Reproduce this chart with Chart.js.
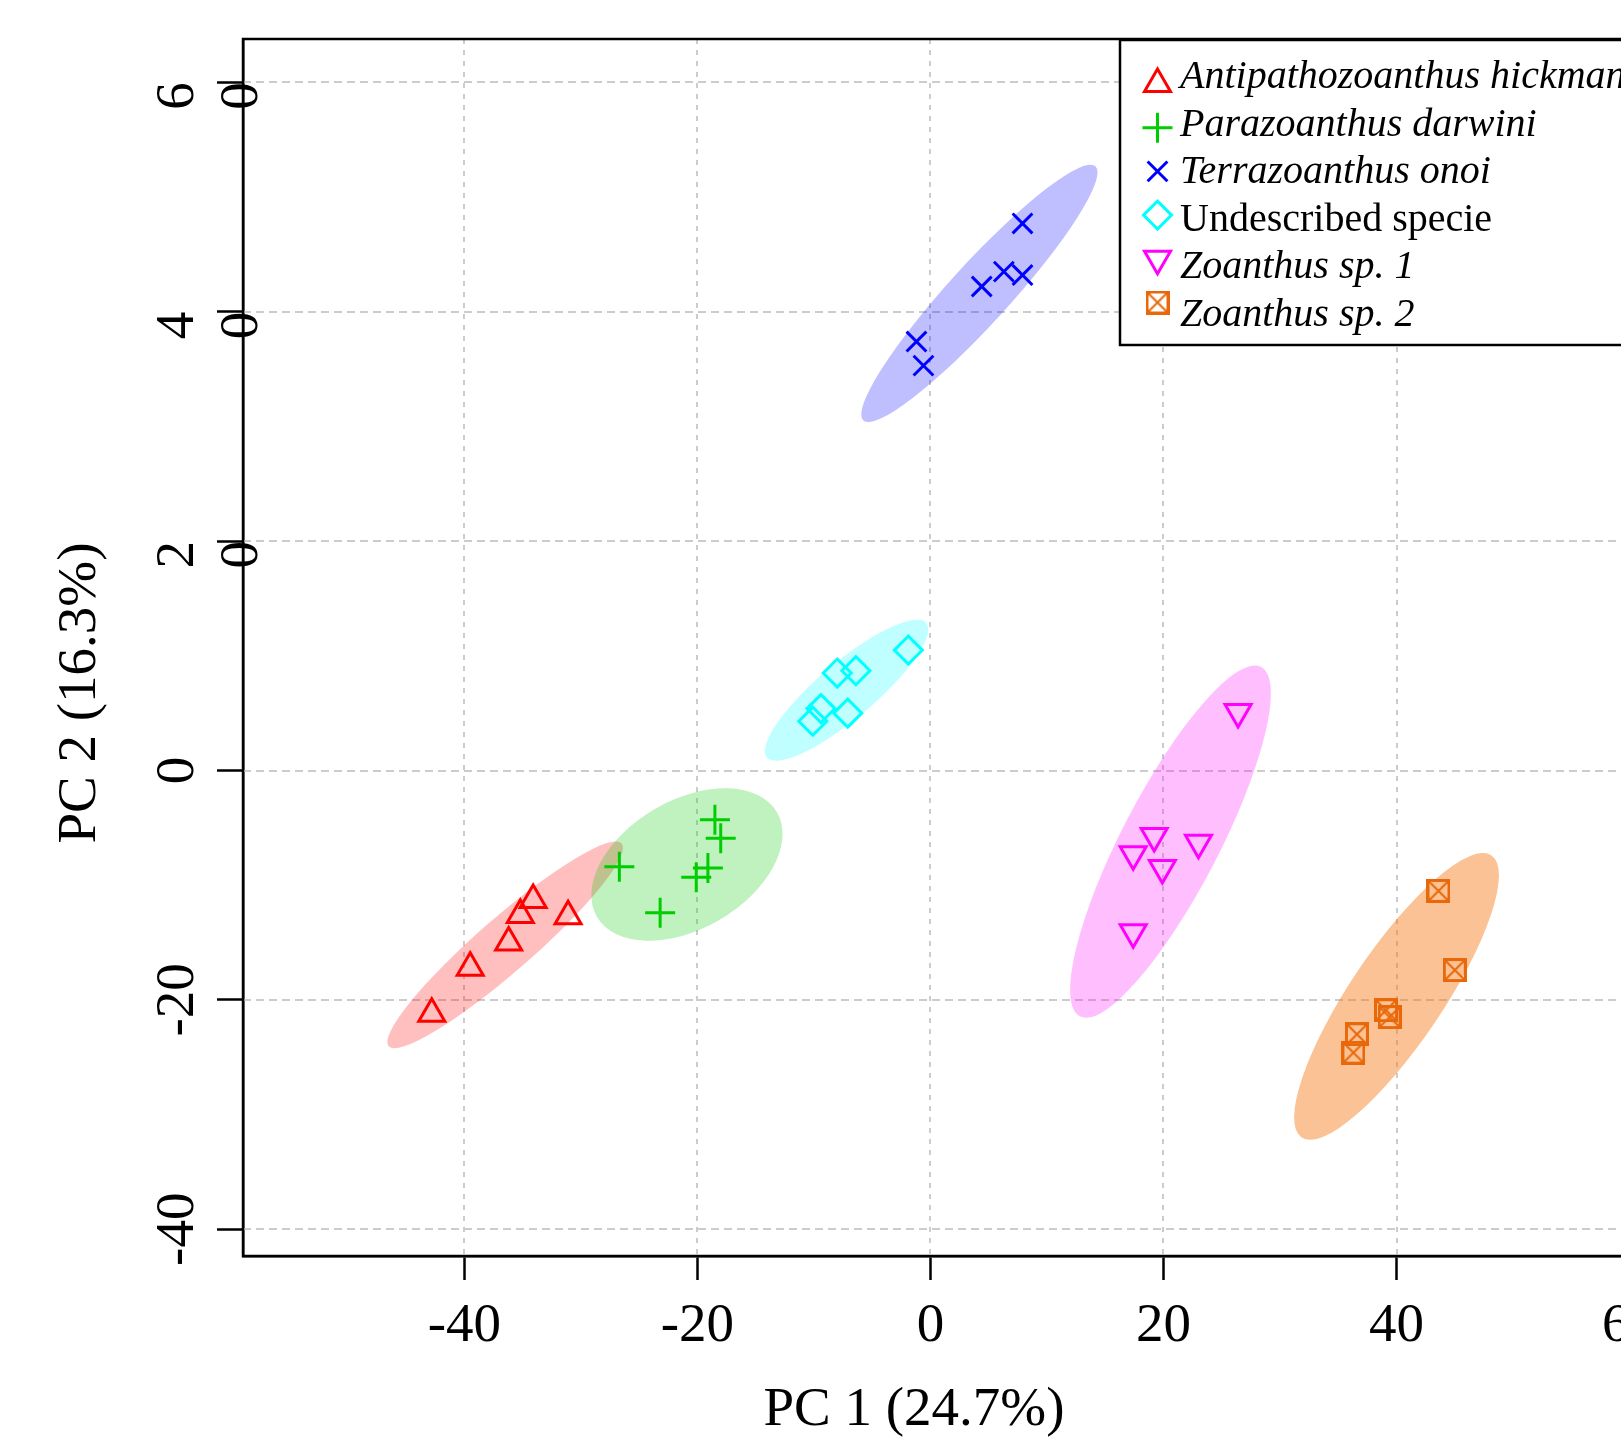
<!DOCTYPE html>
<html><head><meta charset="utf-8">
<script src="https://cdn.jsdelivr.net/npm/chart.js@4.4.1/dist/chart.umd.min.js"></script>
<style>
html,body{margin:0;padding:0;background:#fff;overflow:hidden;width:1621px;height:1437px;}
#wrap{position:absolute;left:0;top:0;width:1720px;height:1437px;}
canvas{display:block}
</style></head><body>
<div id="wrap"><canvas id="c" width="1720" height="1437" style="width:1720px;height:1437px"></canvas></div>
<script>
// ---------- data ----------
const groupNames = ['Antipathozoanthus hickmani','Parazoanthus darwini','Terrazoanthus onoi','Undescribed specie','Zoanthus sp. 1','Zoanthus sp. 2'];
const groupItalic = [true, true, true, false, true, true];

const antiX = [-42.8, -39.5, -36.2, -35.2, -34.1, -31.1];
const antiY = [-21.2, -17.2, -15.0, -12.6, -11.3, -12.7];
const paraX = [-26.7, -23.2, -20.1, -19.1, -18.5, -18.0];
const paraY = [-8.4, -12.4, -9.3, -8.5, -4.3, -5.9];
const terrX = [7.9, 4.4, 6.3, 7.9, -1.2, -0.6];
const terrY = [47.7, 42.2, 43.5, 43.2, 37.4, 35.3];
const undX  = [-1.9, -6.4, -8.0, -9.4, -7.1, -10.1];
const undY  = [10.5, 8.7, 8.5, 5.4, 5.0, 4.3];
const zo1X  = [26.4, 19.2, 17.4, 19.9, 23.0, 17.4];
const zo1Y  = [5.1, -5.7, -7.3, -8.5, -6.3, -14.1];
const zo2X  = [43.6, 45.0, 39.1, 39.4, 36.6, 36.3];
const zo2Y  = [-10.5, -17.4, -20.9, -21.5, -23.0, -24.6];

// ellipse geometry (data units), same group order: centre, major semi-axis vector, minor semi-axis vector
const ellCX   = [-36.5, -20.9, 4.2, -7.2, 20.6, 40.0];
const ellCY   = [-15.2, -8.2, 41.6, 7.0, -6.2, -19.7];
const ellMajX = [10.0, 7.73, 9.96, 6.84, 7.78, 8.15];
const ellMajY = [8.84, 4.55, 11.08, 5.86, 15.23, 12.29];
const ellMinX = [1.52, 2.75, 1.90, 1.55, 3.70, 3.29];
const ellMinY = [-1.79, -4.85, -1.78, -1.87, -1.97, -2.28];

const xTicks = [-40, -20, 0, 20, 40, 60];
const yTicks = [-40, -20, 0, 20, 40, 60];
const xTitle = 'PC 1 (24.7%)';
const yTitle = 'PC 2 (16.3%)';

// ---------- styles ----------
const markerColors = ['#ff0000', '#00cd00', '#0000ff', '#00ffff', '#ff00ff', '#e8680a'];
const fillColors = ['rgba(255,0,0,0.25)', 'rgba(0,205,0,0.25)', 'rgba(0,0,255,0.25)', 'rgba(0,255,255,0.25)', 'rgba(255,0,255,0.25)', 'rgba(245,120,20,0.45)'];
const SERIF = "'Liberation Serif', 'Times New Roman', serif";

function boxX(color, size) {
  const c = document.createElement('canvas');
  c.width = size; c.height = size;
  const g = c.getContext('2d');
  g.strokeStyle = color; g.lineWidth = 3;
  g.strokeRect(1.5, 1.5, size - 3, size - 3);
  g.lineWidth = 2;
  g.beginPath(); g.moveTo(2, 2); g.lineTo(size - 2, size - 2); g.moveTo(size - 2, 2); g.lineTo(2, size - 2); g.stroke();
  return c;
}
const boxImg = boxX(markerColors[5], 24);

const pointStyles = ['triangle', 'cross', 'crossRot', 'rectRot', 'triangle', boxImg];
const pointRot = [0, 0, 0, 0, 180, 0];
const pointRad = [15, 15, 14, 14, 15, 12];

const xs = [antiX, paraX, terrX, undX, zo1X, zo2X];
const ys = [antiY, paraY, terrY, undY, zo1Y, zo2Y];

const datasets = groupNames.map((n, i) => ({
  label: n,
  data: xs[i].map((v, k) => ({x: v, y: ys[i][k]})),
  showLine: false,
  pointStyle: pointStyles[i],
  pointRotation: pointRot[i],
  pointRadius: pointRad[i],
  pointHoverRadius: pointRad[i],
  pointBorderWidth: 3,
  pointBorderColor: markerColors[i],
  pointBackgroundColor: 'rgba(0,0,0,0)'
}));

// ---------- plugins ----------
const backPlugin = {
  id: 'back',
  beforeDatasetsDraw(chart) {
    const {ctx, chartArea: a, scales: {x, y}} = chart;
    ctx.save();
    ctx.beginPath(); ctx.rect(a.left, a.top, a.right - a.left, a.bottom - a.top); ctx.clip();
    // grid
    ctx.strokeStyle = '#cccccc'; ctx.lineWidth = 2;
    ctx.setLineDash([8, 5]);
    y.ticks.forEach(t => { const p = Math.round(y.getPixelForValue(t.value)); ctx.beginPath(); ctx.moveTo(a.left, p); ctx.lineTo(a.right, p); ctx.stroke(); });
    ctx.setLineDash([5, 6]);
    x.ticks.forEach(t => { const p = Math.round(x.getPixelForValue(t.value)); ctx.beginPath(); ctx.moveTo(p, a.top); ctx.lineTo(p, a.bottom); ctx.stroke(); });
    ctx.setLineDash([]);
    // ellipses
    for (let i = 0; i < ellCX.length; i++) {
      const cx = x.getPixelForValue(ellCX[i]), cy = y.getPixelForValue(ellCY[i]);
      const ax = x.getPixelForValue(ellCX[i] + ellMajX[i]) - cx, ay = y.getPixelForValue(ellCY[i] + ellMajY[i]) - cy;
      const bx = x.getPixelForValue(ellCX[i] + ellMinX[i]) - cx, by = y.getPixelForValue(ellCY[i] + ellMinY[i]) - cy;
      ctx.save();
      ctx.transform(ax, ay, bx, by, cx, cy);
      ctx.beginPath(); ctx.arc(0, 0, 1, 0, Math.PI * 2);
      ctx.restore();
      ctx.fillStyle = fillColors[i];
      ctx.fill();
    }
    ctx.restore();
  }
};

function legendSymbol(ctx, i, cx, cy) {
  ctx.save();
  ctx.strokeStyle = markerColors[i]; ctx.lineWidth = 3;
  const st = pointStyles[i];
  if (typeof st === 'object') { ctx.drawImage(st, cx - st.width / 2, cy - st.height / 2); ctx.restore(); return; }
  const r = pointRad[i];
  ctx.beginPath();
  if (st === 'triangle') {
    let rad = pointRot[i] * Math.PI / 180;
    for (let k = 0; k < 3; k++) { const px = cx + Math.sin(rad) * r, py = cy - Math.cos(rad) * r; k ? ctx.lineTo(px, py) : ctx.moveTo(px, py); rad += 2 * Math.PI / 3; }
    ctx.closePath();
  } else if (st === 'cross') {
    ctx.moveTo(cx, cy - r); ctx.lineTo(cx, cy + r); ctx.moveTo(cx - r, cy); ctx.lineTo(cx + r, cy);
  } else if (st === 'crossRot') {
    const o = r * Math.SQRT1_2;
    ctx.moveTo(cx - o, cy - o); ctx.lineTo(cx + o, cy + o); ctx.moveTo(cx + o, cy - o); ctx.lineTo(cx - o, cy + o);
  } else if (st === 'rectRot') {
    ctx.moveTo(cx - r, cy); ctx.lineTo(cx, cy - r); ctx.lineTo(cx + r, cy); ctx.lineTo(cx, cy + r); ctx.closePath();
  }
  ctx.stroke();
  ctx.restore();
}

const frontPlugin = {
  id: 'front',
  afterDraw(chart) {
    const {ctx, chartArea: a, scales: {y}} = chart;
    ctx.save();
    // plot box
    ctx.strokeStyle = '#000'; ctx.lineWidth = 2.5;
    ctx.strokeRect(a.left, a.top, a.right - a.left, a.bottom - a.top);
    // y tick labels (rotated)
    ctx.fillStyle = '#000';
    ctx.font = '55px ' + SERIF;
    y.ticks.forEach(t => {
      const py = y.getPixelForValue(t.value);
      const s = String(t.value);
      ctx.save();
      ctx.translate(a.left - 50, py);
      ctx.rotate(-Math.PI / 2);
      ctx.textBaseline = 'alphabetic';
      if (t.value > 0) {
        const w = ctx.measureText(s).width;
        ctx.textAlign = 'left';
        ctx.fillText(s[0], -w / 2, 0);
        ctx.fillText(s.slice(1), -w / 2, 64);
      } else {
        ctx.textAlign = 'center';
        ctx.fillText(s, 0, 0);
      }
      ctx.restore();
    });
    // axis titles
    ctx.textAlign = 'center'; ctx.textBaseline = 'alphabetic';
    ctx.fillText(xTitle, 914, 1425);
    ctx.save(); ctx.translate(95, 693); ctx.rotate(-Math.PI / 2); ctx.fillText(yTitle, 0, 0); ctx.restore();
    // legend
    const lx = 1120, ly = a.top + 1, lh = 305;
    ctx.fillStyle = '#fff';
    ctx.fillRect(lx, ly, a.right - lx, lh);
    ctx.strokeStyle = '#000'; ctx.lineWidth = 2.5;
    ctx.strokeRect(lx, ly, a.right - lx, lh);
    ctx.textAlign = 'left';
    groupNames.forEach((n, i) => {
      legendSymbol(ctx, i, 1157.5, 84 + i * 43.7);
      ctx.fillStyle = '#000';
      ctx.font = (groupItalic[i] ? 'italic ' : '') + '40px ' + SERIF;
      ctx.fillText(n, 1180, 88 + i * 47.6);
    });
    ctx.restore();
  }
};

const W = 1720, H = 1437;
new Chart(document.getElementById('c'), {
  type: 'scatter',
  data: {datasets},
  plugins: [backPlugin, frontPlugin],
  options: {
    responsive: false, animation: false, devicePixelRatio: 1,
    layout: {padding: {left: 0, top: 39, right: W - 1682, bottom: 0}},
    plugins: {legend: {display: false}, tooltip: {enabled: false}},
    scales: {
      x: {
        type: 'linear', min: -59, max: 64.5,
        afterBuildTicks: s => { s.ticks = xTicks.map(v => ({value: v})); },
        afterFit: s => { s.height = H - 1256; },
        grid: {drawOnChartArea: false, drawTicks: true, tickLength: 24, tickWidth: 2.5, tickColor: '#000', color: '#000', tickBorderDash: []},
        border: {display: true, color: '#000', width: 2.5},
        ticks: {color: '#000', font: {family: SERIF, size: 55}, padding: 14, maxRotation: 0, autoSkip: false}
      },
      y: {
        type: 'linear', min: -42.33, max: 63.78,
        afterBuildTicks: s => { s.ticks = yTicks.map(v => ({value: v})); },
        afterFit: s => { s.width = 243; },
        grid: {drawOnChartArea: false, drawTicks: true, tickLength: 26, tickWidth: 2.5, tickColor: '#000', color: '#000', tickBorderDash: []},
        border: {display: true, color: '#000', width: 2.5},
        ticks: {display: false}
      }
    }
  }
});
</script>
</body></html>
